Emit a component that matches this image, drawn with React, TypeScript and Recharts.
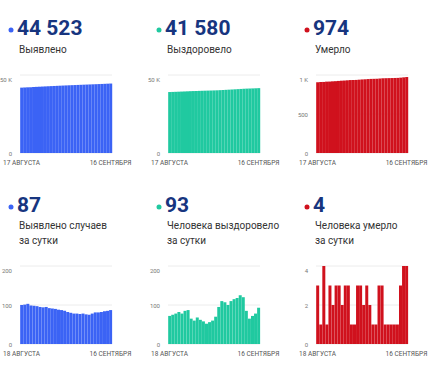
import { BarChart, Bar, XAxis, YAxis, CartesianGrid } from "recharts"

const datesTotal = [
  "17 АВГУСТА", "18 АВГУСТА", "19 АВГУСТА", "20 АВГУСТА", "21 АВГУСТА", "22 АВГУСТА",
  "23 АВГУСТА", "24 АВГУСТА", "25 АВГУСТА", "26 АВГУСТА", "27 АВГУСТА", "28 АВГУСТА",
  "29 АВГУСТА", "30 АВГУСТА", "31 АВГУСТА", "1 СЕНТЯБРЯ", "2 СЕНТЯБРЯ", "3 СЕНТЯБРЯ",
  "4 СЕНТЯБРЯ", "5 СЕНТЯБРЯ", "6 СЕНТЯБРЯ", "7 СЕНТЯБРЯ", "8 СЕНТЯБРЯ", "9 СЕНТЯБРЯ",
  "10 СЕНТЯБРЯ", "11 СЕНТЯБРЯ", "12 СЕНТЯБРЯ", "13 СЕНТЯБРЯ", "14 СЕНТЯБРЯ", "15 СЕНТЯБРЯ",
  "16 СЕНТЯБРЯ",
]
const datesDaily = datesTotal.slice(1)

const confirmedTotal = [
  41906, 42006, 42107, 42210, 42309, 42407, 42504, 42599, 42693, 42788, 42880, 42971,
  43061, 43149, 43236, 43321, 43403, 43483, 43561, 43639, 43716, 43794, 43870, 43945,
  44023, 44104, 44185, 44267, 44351, 44436, 44523,
]
const recoveredTotal = [
  39079, 39151, 39226, 39304, 39386, 39464, 39549, 39636, 39701, 39761, 39829, 39891,
  39949, 40001, 40057, 40117, 40187, 40282, 40392, 40499, 40599, 40709, 40824, 40942,
  41067, 41187, 41272, 41337, 41409, 41487, 41580,
]
const deathsTotal = [
  907, 910, 911, 915, 916, 919, 921, 924, 927, 929, 932, 935, 936, 937, 940, 943,
  945, 948, 950, 951, 952, 955, 958, 959, 960, 961, 962, 963, 966, 970, 974,
]
const confirmedDaily = [
  100, 101, 103, 99, 98, 97, 95, 94, 95, 92, 91, 90, 88, 87, 85,
  82, 80, 78, 78, 77, 78, 76, 75, 78, 81, 81, 82, 84, 85, 87,
]
const recoveredDaily = [
  72, 75, 78, 82, 78, 85, 87, 65, 60, 68, 62, 58, 52, 56, 60,
  70, 95, 110, 107, 100, 110, 115, 118, 125, 120, 85, 65, 72, 78, 93,
]
const deathsDaily = [
  3, 1, 4, 1, 3, 2, 3, 3, 2, 3, 3, 1, 1, 3, 3,
  2, 3, 2, 1, 1, 3, 3, 1, 1, 1, 1, 1, 3, 4, 4,
]

const BLUE = "#3b63f5"
const TEAL = "#20c9a0"
const RED = "#d0111d"
const NAVY = "#17357f"
const FONT = "Roboto, 'Noto Sans', sans-serif"

const kFormat = (v: number) => (v === 0 ? "0" : v >= 1000 ? `${v / 1000} K` : `${v}`)

// plain ticks, recharts wraps long labels otherwise
const XTick = ({ x, y, payload }: any) => (
  <text x={x} y={y + 4} textAnchor="middle" fontSize={6.5} fill="#555" fontFamily={FONT}>
    {payload.value}
  </text>
)
const YTick = ({ x, y, payload }: any) => (
  <text x={x} y={y + 2.5} textAnchor="end" fontSize={6} fill="#777" fontFamily={FONT}>
    {kFormat(payload.value)}
  </text>
)

function MiniBars({ dates, values, color, max, ticks }: any) {
  const data = dates.map((d: string, i: number) => ({ date: d, value: values[i] }))
  return (
    <BarChart width={135} height={108} data={data} margin={{ top: 5, right: 23, bottom: 10, left: 0 }} barCategoryGap="6%">
      <CartesianGrid vertical={false} stroke="#ececec" />
      <XAxis
        dataKey="date"
        ticks={[dates[0], dates[dates.length - 1]]}
        interval={0}
        axisLine={false}
        tickLine={false}
        height={15}
        tick={<XTick />}
      />
      <YAxis
        width={20}
        domain={[0, max]}
        ticks={ticks}
        axisLine={false}
        tickLine={false}
        tick={<YTick />}
      />
      <Bar dataKey="value" fill={color} isAnimationActive={false} />
    </BarChart>
  )
}

const panels = [
  { value: "44 523", lines: ["Выявлено"], color: BLUE, dates: datesTotal, values: confirmedTotal, max: 50000, ticks: [0, 50000] },
  { value: "41 580", lines: ["Выздоровело"], color: TEAL, dates: datesTotal, values: recoveredTotal, max: 50000, ticks: [0, 50000] },
  { value: "974", lines: ["Умерло"], color: RED, dates: datesTotal, values: deathsTotal, max: 1000, ticks: [0, 500, 1000] },
  { value: "87", lines: ["Выявлено случаев", "за сутки"], color: BLUE, dates: datesDaily, values: confirmedDaily, max: 200, ticks: [0, 100, 200] },
  { value: "93", lines: ["Человека выздоровело", "за сутки"], color: TEAL, dates: datesDaily, values: recoveredDaily, max: 200, ticks: [0, 100, 200] },
  { value: "4", lines: ["Человека умерло", "за сутки"], color: RED, dates: datesDaily, values: deathsDaily, max: 4, ticks: [0, 2, 4] },
]

export default function App() {
  return (
    <div style={{ position: "absolute", left: 0, top: 0, width: 430, height: 366, background: "#fff", fontFamily: FONT }}>
      {panels.map((p, i) => {
        const left = 148 * (i % 3)
        const top = i < 3 ? 0 : 177
        return (
          <div key={i}>
            <svg style={{ position: "absolute", left, top }} width={148} height={70}>
              <circle cx={11} cy={30} r={2.5} fill={p.color} />
              <text x={17} y={35} fontSize={21} fontWeight={700} fill={NAVY} fontFamily={FONT}>{p.value}</text>
              {p.lines.map((l, j) => (
                <text key={j} x={19} y={(i < 3 ? 53 : 52) + j * 15} fontSize={10} fill="#333" fontFamily={FONT}>{l}</text>
              ))}
            </svg>
            <div style={{ position: "absolute", left, top: i < 3 ? 70 : 261 }}>
              <MiniBars dates={p.dates} values={p.values} color={p.color} max={p.max} ticks={p.ticks} />
            </div>
          </div>
        )
      })}
    </div>
  )
}
